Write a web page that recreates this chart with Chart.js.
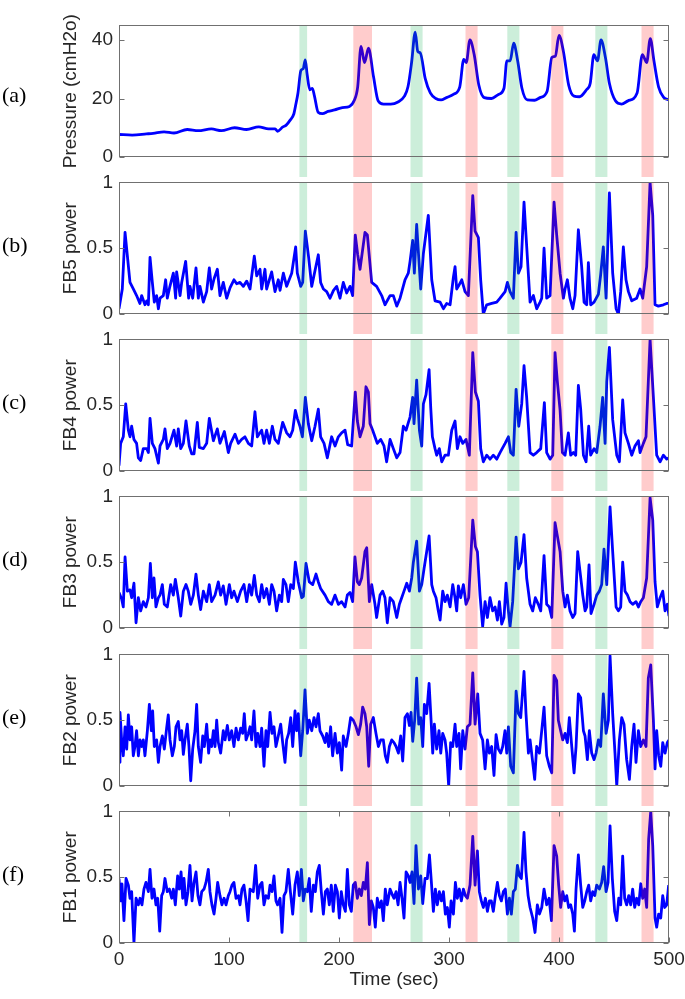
<!DOCTYPE html>
<html>
<head>
<meta charset="utf-8">
<script src="https://cdn.jsdelivr.net/npm/chart.js@4.4.1/dist/chart.umd.min.js"></script>
<style>
  html, body { margin: 0; padding: 0; background: #fff; }
  #fig { position: relative; width: 685px; height: 999px; overflow: hidden; }
  #fig canvas { position: absolute; left: 0; }
  .tag { position: absolute; left: 2px; font-family: 'Liberation Serif', 'Times New Roman', serif; font-size: 22px; line-height: 24px; color: #000; }
</style>
</head>
<body>
<div id="fig"></div>
<script>
const timeTicks = [0, 100, 200, 300, 400, 500]
const pressureTicks = [0, 20, 40]
const powerTicks = [0, 0.5, 1]
const greenBands = [[164, 171], [265, 276], [353, 364], [433, 444]]
const redBands = [[213, 230], [315, 326], [393, 404], [475, 486]]
const panelTags = ['(a)', '(b)', '(c)', '(d)', '(e)', '(f)']
const yTitles = ['Pressure (cmH2o)', 'FB5 power', 'FB4 power', 'FB3 power', 'FB2 power', 'FB1 power']

// [time (sec), value]
const pressure = [[0,7.7],[12,7.5],[25,7.9],[31,8.1],[41,8.6],[50,8.2],[62,9.4],[72,9.0],[84,9.6],[93,9.0],[105,10.0],[116,9.4],[127,10.3],[136,9.6],[142,9.6],[144,8.8],[149,10.3],[152,10.9],[155.6,12.6],[159,14.8],[160.5,17.5],[162.7,21.9],[165.4,29.6],[167.5,30.2],[169.3,33.2],[171,28.3],[173.5,23],[175.8,23.5],[177.7,20.8],[181,15.3],[185,14.8],[190,15.6],[196,16.1],[203,16.9],[209.5,17.3],[213.7,19.2],[217,24],[220,37.8],[223.2,32.3],[226.8,37.2],[231.4,27.4],[235.6,19.2],[240.5,18.1],[247,18.1],[253.6,18.8],[259.5,20.8],[262.7,24],[266,32.3],[269.3,42.7],[271.6,36.1],[273.9,35.6],[278.4,26.8],[283,21.9],[288,20],[292.8,19.5],[297.7,20.3],[304,21.4],[309.8,24],[313.4,33.4],[315.7,32.3],[319,40],[322.9,35],[327.1,24.6],[332,20.3],[338.6,20],[345,21.4],[350,23.5],[352.6,32.9],[355.6,32.9],[358.8,38.9],[362.4,32.9],[366.3,23.5],[371.2,19.5],[377.8,19.4],[382.7,20.3],[389.2,22.5],[393.5,34],[396.7,34.5],[400,41.6],[404,36.1],[408.8,24.6],[413.7,20.8],[418.6,20.6],[425,23],[428.4,25.2],[431.7,35],[435,32.9],[438.2,40],[442.2,34],[445.8,25.2],[451.3,19.2],[456.9,18.1],[462.7,19.2],[471,21.9],[475.8,35],[479.7,32.3],[483,40.5],[486.3,32.9],[490.5,24],[495.4,20.3],[500,19.5]]

const fb5 = [[0,0.04],[3,0.19],[5.5,0.62],[10,0.24],[13,0.19],[16,0.14],[19,0.08],[20.6,0.14],[23.6,0.07],[25.2,0.10],[26.7,0.07],[28.2,0.43],[30.3,0.24],[32.1,0.09],[34.2,0.14],[35.8,0.04],[37.3,0.12],[40.3,0.14],[42.4,0.26],[43.9,0.12],[46,0.2],[49.4,0.31],[51.5,0.12],[52.4,0.32],[55.5,0.14],[57,0.24],[60.6,0.40],[63.3,0.12],[64.5,0.21],[67,0.12],[70,0.35],[72.1,0.12],[73.6,0.21],[76.7,0.09],[79.7,0.17],[82.1,0.35],[84.2,0.19],[86.5,0.27],[89.4,0.34],[91.8,0.14],[94.8,0.24],[97.9,0.12],[101,0.2],[104.5,0.26],[107,0.23],[110,0.24],[113,0.21],[116.1,0.25],[119.1,0.19],[123,0.44],[125.2,0.29],[128.2,0.34],[129.7,0.19],[132.7,0.34],[134.2,0.19],[138.8,0.32],[141.8,0.17],[144.8,0.26],[146.4,0.18],[149.4,0.31],[152.4,0.21],[157,0.31],[160.6,0.51],[162.1,0.31],[165.2,0.21],[167,0.24],[169.4,0.63],[172.4,0.43],[175.2,0.21],[181.2,0.45],[183.3,0.24],[185.8,0.19],[188.8,0.17],[191.8,0.12],[195,0.18],[197.9,0.21],[200.9,0.12],[203.9,0.24],[207,0.16],[210,0.21],[212.4,0.14],[214.8,0.60],[217,0.45],[219.1,0.34],[223.6,0.62],[225.8,0.60],[229.7,0.24],[234.2,0.21],[238.8,0.14],[241.8,0.07],[246.4,0.14],[249.4,0.14],[252.5,0.06],[255.5,0.12],[260,0.26],[263,0.31],[264.6,0.40],[267,0.56],[268.5,0.31],[270.6,0.68],[274.3,0.19],[276.7,0.46],[281.2,0.75],[284.3,0.26],[287.3,0.10],[291.9,0.09],[294.9,0.04],[297.9,0.08],[301,0.07],[304,0.28],[305.5,0.36],[307,0.19],[308.5,0.21],[311.6,0.26],[314.6,0.17],[317.6,0.14],[321.6,0.90],[323.7,0.63],[326.7,0.58],[328.8,0.26],[331.2,0.0],[334.3,0.07],[338.8,0.08],[343.4,0.09],[346.4,0.12],[351,0.17],[353.1,0.24],[355.5,0.17],[358.5,0.12],[361,0.62],[363.1,0.31],[365.5,0.36],[368.2,0.85],[370,0.60],[373.7,0.09],[376.7,0.14],[379.7,0.04],[382.8,0.09],[384.3,0.12],[386.4,0.50],[388.8,0.12],[391.9,0.14],[395.5,0.85],[397.9,0.60],[401,0.31],[404,0.12],[405.5,0.19],[407.6,0.26],[410,0.12],[412.5,0.04],[414.6,0.14],[417.6,0.64],[420.6,0.36],[422.8,0.09],[425.2,0.07],[426.7,0.39],[428.8,0.07],[431.9,0.09],[435.8,0.15],[437.9,0.30],[440.3,0.51],[442.8,0.12],[445.8,0.92],[448.8,0.31],[451.9,0.04],[454,0.0],[456.1,0.17],[458.5,0.51],[460.9,0.26],[463.1,0.17],[466.1,0.10],[470.6,0.12],[473.7,0.19],[476.1,0.12],[479.7,0.36],[482.8,1.0],[485.2,0.75],[487.3,0.07],[490.3,0.06],[494.9,0.07],[497.9,0.08],[500,0.08]]

const fb4 = [[0,0.04],[1.5,0.21],[3.9,0.26],[6.1,0.51],[8.5,0.31],[10,0.26],[11.5,0.34],[13.6,0.24],[16,0.21],[17.6,0.10],[19.7,0.08],[22.1,0.17],[25.2,0.17],[26.7,0.14],[28.2,0.40],[30.3,0.21],[32.7,0.17],[35.8,0.06],[37.3,0.19],[40.3,0.24],[41.8,0.32],[43.9,0.17],[46.4,0.21],[50,0.31],[52.4,0.19],[53.9,0.32],[56.1,0.17],[58.5,0.21],[60.9,0.38],[63.9,0.19],[66.1,0.13],[68.2,0.13],[71.2,0.37],[73,0.18],[76.7,0.17],[79.7,0.21],[82.1,0.40],[85.8,0.23],[89.4,0.32],[91.8,0.21],[95.8,0.30],[99.4,0.14],[101.5,0.21],[105.5,0.28],[108.5,0.21],[111.5,0.24],[114.5,0.26],[117.6,0.21],[120.6,0.19],[123.6,0.45],[125.8,0.26],[129.7,0.31],[131.8,0.21],[134.2,0.31],[136.7,0.21],[139.4,0.34],[141.8,0.24],[144.8,0.21],[148.8,0.37],[152.4,0.29],[155.5,0.26],[157.9,0.31],[160.3,0.46],[162.1,0.40],[164.5,0.34],[166.7,0.26],[169.4,0.56],[172.1,0.36],[175.2,0.23],[178.2,0.34],[181.2,0.47],[183.3,0.26],[186.4,0.21],[189.4,0.10],[193.3,0.26],[196.4,0.19],[199.4,0.26],[202.4,0.29],[205.5,0.31],[207.9,0.20],[211.5,0.19],[214.8,0.60],[216.7,0.38],[219.1,0.26],[222.1,0.34],[224.5,0.64],[226.7,0.60],[228.2,0.36],[230.6,0.31],[232.7,0.26],[234.8,0.21],[237.9,0.24],[240.9,0.19],[243.3,0.07],[246.4,0.24],[249.4,0.17],[252.5,0.10],[255.5,0.14],[258.5,0.34],[261,0.31],[263.1,0.37],[264.6,0.41],[267,0.56],[268.2,0.36],[270.6,0.69],[273.1,0.31],[275.2,0.19],[276.7,0.51],[279.1,0.58],[281.9,0.77],[283.4,0.48],[284.9,0.26],[287.3,0.17],[288.8,0.12],[291.2,0.17],[293.4,0.07],[296.4,0.12],[299.4,0.12],[302.5,0.31],[305.5,0.38],[307.6,0.17],[310,0.26],[312.5,0.21],[315.5,0.24],[318.5,0.12],[321.6,0.90],[324,0.60],[326.7,0.53],[328.8,0.17],[331.2,0.07],[334.3,0.12],[337.3,0.09],[340.3,0.12],[343.4,0.09],[346.4,0.14],[351,0.21],[354,0.26],[356.1,0.14],[358.5,0.12],[361,0.62],[363.4,0.34],[366.1,0.51],[368.2,0.80],[370.6,0.56],[373.7,0.14],[376.7,0.12],[379.7,0.14],[383.4,0.17],[386.7,0.52],[388.8,0.14],[391.9,0.09],[394.3,0.12],[396.4,0.90],[398.5,0.68],[401,0.46],[403.1,0.14],[405.5,0.12],[408.5,0.29],[410.6,0.12],[413.1,0.14],[415.2,0.12],[417.6,0.65],[419.7,0.47],[422.2,0.12],[424.6,0.07],[427,0.34],[428.8,0.12],[431.9,0.17],[434.3,0.14],[437.3,0.34],[439.7,0.56],[441.9,0.21],[443.4,0.68],[445.8,0.94],[448.8,0.39],[452.5,0.12],[454.9,0.07],[457.9,0.54],[460,0.29],[463.1,0.21],[466.1,0.12],[469.1,0.19],[472.2,0.23],[473.7,0.14],[476.7,0.21],[479.1,0.26],[482.8,1.0],[485.8,0.56],[488.8,0.12],[491.9,0.07],[494.9,0.12],[497.9,0.09],[500,0.10]]

const fb3 = [[0,0.27],[2.4,0.22],[3.9,0.16],[5.5,0.54],[7.6,0.28],[10,0.29],[11.5,0.23],[13.6,0.34],[15.5,0.04],[17.6,0.23],[19.7,0.13],[22.1,0.20],[24.5,0.16],[26.7,0.23],[28.5,0.49],[30.3,0.23],[31.8,0.38],[33.6,0.16],[35.8,0.23],[37.3,0.25],[39.4,0.33],[41.2,0.18],[43.9,0.16],[47,0.33],[49.4,0.25],[51.2,0.37],[53.9,0.23],[56.1,0.09],[58.5,0.28],[60.9,0.33],[63,0.28],[65.2,0.18],[67.6,0.25],[70,0.41],[72.1,0.25],[74.2,0.14],[76.7,0.28],[79.7,0.20],[82.1,0.33],[84.2,0.20],[87.3,0.25],[90.3,0.35],[92.4,0.25],[94.8,0.32],[97.3,0.18],[100.3,0.33],[102.4,0.23],[104.5,0.28],[107.6,0.20],[110.6,0.28],[113.6,0.33],[116.1,0.20],[118.5,0.33],[120.6,0.25],[123,0.40],[125.2,0.25],[127.6,0.20],[129.7,0.33],[131.8,0.23],[134.2,0.30],[136.7,0.18],[138.8,0.33],[140.9,0.28],[143.3,0.13],[145.8,0.25],[147.9,0.20],[149.4,0.37],[151.8,0.33],[153.9,0.20],[156.1,0.33],[158.5,0.30],[160.3,0.50],[163,0.35],[166.1,0.23],[167.6,0.24],[170,0.49],[173,0.35],[176.1,0.33],[179.1,0.41],[181.2,0.35],[183.3,0.30],[187.3,0.25],[190.3,0.20],[193.3,0.18],[196.4,0.25],[199.4,0.18],[202.4,0.20],[205.5,0.16],[207.6,0.25],[210,0.27],[212.4,0.20],[214.5,0.54],[216.7,0.35],[218.5,0.33],[220.6,0.38],[223.6,0.58],[225.2,0.61],[227.6,0.20],[229.7,0.33],[232.7,0.18],[234.2,0.08],[237.3,0.25],[239.7,0.28],[241.8,0.23],[243.9,0.04],[246.4,0.23],[249.4,0.20],[252.5,0.08],[254.9,0.18],[257,0.23],[259.1,0.28],[261.6,0.34],[264,0.28],[266.1,0.38],[267.6,0.50],[270.6,0.66],[273.1,0.28],[275.2,0.33],[277.3,0.45],[279.7,0.58],[281.9,0.70],[284.3,0.33],[285.8,0.28],[288.2,0.23],[290.3,0.13],[291.9,0.06],[294.3,0.28],[296.4,0.20],[298.5,0.25],[301,0.16],[303.4,0.33],[305.5,0.23],[307,0.13],[308.5,0.32],[310.6,0.23],[313.1,0.33],[315.5,0.18],[317.9,0.23],[321.6,0.82],[324,0.62],[325.8,0.58],[328.2,0.25],[330.6,0.01],[332.8,0.20],[334.9,0.08],[337.3,0.23],[339.7,0.13],[341.9,0.16],[344,0.06],[345.8,0.20],[347.9,0.03],[350,0.08],[351.9,0.34],[354,0.13],[355.5,0.01],[357.9,0.20],[361,0.69],[363.1,0.45],[365.5,0.50],[368.2,0.71],[370.6,0.38],[373.7,0.18],[376.1,0.13],[378.5,0.23],[381.2,0.18],[383.4,0.13],[386.4,0.55],[388.8,0.18],[391.2,0.16],[393.4,0.08],[396.4,0.80],[398.5,0.70],[401,0.58],[403.4,0.28],[405.5,0.16],[407.6,0.25],[410,0.13],[412.5,0.08],[414.6,0.11],[417,0.58],[419.1,0.43],[421.6,0.25],[423.7,0.13],[425.2,0.16],[427.3,0.48],[429.1,0.11],[431.9,0.18],[434.3,0.25],[436.7,0.28],[438.8,0.33],[440.9,0.60],[443.4,0.33],[446.4,0.92],[448.8,0.58],[451.9,0.16],[454,0.13],[456.1,0.16],[457.9,0.50],[460,0.28],[462.2,0.25],[464.6,0.20],[467,0.18],[470,0.20],[472.2,0.16],[474.3,0.20],[476.7,0.23],[479.7,0.38],[482.8,0.99],[485.2,0.82],[487.3,0.35],[489.4,0.16],[491.9,0.23],[494.3,0.28],[496.4,0.13],[498.5,0.18],[500,0.09]]

const fb2 = [[0,0.18],[0.9,0.56],[2.4,0.35],[3.9,0.23],[5.5,0.45],[7,0.28],[8.5,0.54],[10,0.35],[11.5,0.45],[13,0.23],[14.5,0.30],[16,0.42],[17.6,0.23],[19.1,0.35],[20.6,0.30],[22.1,0.35],[23.6,0.23],[25.8,0.42],[27.6,0.62],[29.4,0.42],[30.6,0.57],[32.1,0.30],[34.2,0.35],[35.8,0.18],[37.3,0.30],[39.4,0.38],[41.2,0.28],[43.3,0.44],[44.8,0.54],[46.4,0.35],[48.5,0.23],[50.3,0.30],[51.8,0.45],[53.9,0.49],[55.5,0.35],[57,0.42],[58.5,0.24],[60,0.35],[62.1,0.47],[63.6,0.30],[65.2,0.04],[67,0.28],[69.1,0.42],[70.6,0.62],[72.1,0.30],[74.2,0.18],[76.1,0.38],[77.6,0.30],[79.7,0.47],[81.5,0.25],[82.7,0.35],[84.2,0.30],[85.8,0.42],[87.3,0.30],[88.8,0.50],[90.3,0.33],[92.4,0.25],[94.8,0.42],[96.4,0.35],[98.5,0.46],[100.3,0.35],[102.4,0.42],[104.5,0.30],[106.4,0.44],[108.5,0.35],[110.6,0.44],[112.4,0.40],[113.9,0.55],[115.5,0.35],[117.6,0.40],[119.1,0.45],[120.6,0.35],[122.7,0.57],[124.5,0.30],[126.1,0.40],[128.2,0.30],[129.7,0.44],[131.8,0.15],[133.6,0.42],[135.2,0.30],[137.3,0.56],[139.1,0.40],[140.9,0.45],[142.7,0.30],[144.8,0.38],[147,0.47],[148.8,0.33],[150.9,0.18],[152.4,0.35],[154.2,0.40],[156.1,0.52],[157.9,0.30],[160,0.57],[161.5,0.42],[163,0.55],[165.2,0.23],[167,0.42],[169.1,0.73],[171.2,0.40],[173,0.50],[175.2,0.42],[177.3,0.52],[179.1,0.45],[181.2,0.55],[182.7,0.42],[185.2,0.38],[187.3,0.33],[188.8,0.40],[190.6,0.30],[192.4,0.45],[194.2,0.23],[196.4,0.40],[198.5,0.25],[200.3,0.33],[202.4,0.12],[203.9,0.38],[206.4,0.30],[208.5,0.40],[210.6,0.52],[213,0.50],[215.5,0.45],[217.6,0.39],[219.7,0.47],[221.5,0.60],[223.6,0.55],[225.2,0.45],[227,0.15],[228.8,0.47],[231.2,0.52],[233.6,0.40],[235.8,0.30],[237.9,0.35],[240.3,0.35],[242.1,0.23],[243.9,0.18],[245.8,0.30],[247.9,0.35],[250,0.33],[251.9,0.30],[254,0.25],[256.1,0.38],[257.9,0.19],[260,0.52],[262.2,0.55],[264,0.46],[265.5,0.56],[267,0.34],[268.8,0.50],[270.6,0.82],[272.5,0.47],[274.3,0.52],[276.1,0.30],[277.6,0.62],[279.7,0.55],[281.9,0.78],[283.7,0.50],[285.2,0.25],[286.7,0.47],[288.8,0.28],[290.9,0.42],[292.5,0.25],[294.3,0.40],[296.4,0.35],[297.9,0.25],[299.7,0.0],[301.5,0.33],[303.4,0.30],[305.5,0.47],[307,0.30],[309.1,0.40],[310.6,0.13],[312.5,0.42],[314.6,0.28],[316.7,0.45],[319.1,0.47],[321.6,0.86],[323.7,0.47],[326.1,0.70],[328.2,0.40],[330.6,0.35],[332.8,0.13],[334.9,0.35],[336.7,0.25],[338.8,0.30],[340.9,0.08],[342.8,0.39],[344.9,0.28],[347,0.25],[348.8,0.30],[350.9,0.42],[352.5,0.25],[354,0.45],[356.1,0.15],[358.5,0.10],[361,0.72],[363.1,0.55],[365.2,0.52],[368.2,0.87],[370,0.55],[372.2,0.25],[373.7,0.35],[376.1,0.18],[377.9,0.05],[379.7,0.30],[382.2,0.25],[384.3,0.42],[386.4,0.60],[388.8,0.23],[391.2,0.15],[393.4,0.10],[395.5,0.84],[397.9,0.80],[399.4,0.50],[401.5,0.42],[403.4,0.35],[405.5,0.40],[407.6,0.33],[409.4,0.52],[411.6,0.30],[413.7,0.10],[415.5,0.30],[417.6,0.70],[419.7,0.67],[422.2,0.42],[423.7,0.38],[425.8,0.20],[427.6,0.42],[429.7,0.25],[431.9,0.20],[433.7,0.25],[435.8,0.35],[437.9,0.30],[440.3,0.70],[442.8,0.40],[444.9,0.50],[446.4,0.99],[448.8,0.55],[450.9,0.25],[452.5,0.0],[454.9,0.35],[457,0.52],[459.1,0.47],[461.5,0.20],[464,0.05],[466.1,0.30],[468.2,0.47],[470,0.18],[472.2,0.42],[474.3,0.30],[476.7,0.35],[479.1,0.30],[481.2,0.82],[483.4,0.92],[485.8,0.50],[487.3,0.13],[488.8,0.42],[490.6,0.23],[492.5,0.15],[494.3,0.33],[496.4,0.25],[498.5,0.33],[500,0.35]]

const fb1 = [[0,0.49],[1.5,0.32],[2.7,0.45],[4.5,0.17],[6.4,0.49],[8.5,0.44],[10,0.34],[11.5,0.39],[13.6,0.0],[15.5,0.34],[17.6,0.29],[19.1,0.34],[20.9,0.29],[22.7,0.41],[24.5,0.46],[26.7,0.39],[28.2,0.56],[30,0.34],[31.8,0.41],[33.6,0.29],[35.2,0.34],[37,0.09],[38.8,0.36],[40.3,0.39],[41.8,0.49],[43.9,0.39],[45.8,0.41],[47.9,0.34],[49.4,0.41],[51.2,0.29],[53.3,0.51],[54.8,0.41],[56.4,0.54],[57.9,0.34],[59.1,0.49],[60.9,0.29],[62.7,0.39],[64.5,0.59],[66.4,0.32],[68.2,0.46],[70,0.54],[71.8,0.36],[73.6,0.29],[75.2,0.39],[77.3,0.41],[79.1,0.46],[81.2,0.56],[82.7,0.39],[84.5,0.29],[86.4,0.22],[88.2,0.34],[89.7,0.46],[91.8,0.36],[93.6,0.29],[95.5,0.34],[97.3,0.29],[99.4,0.36],[100.9,0.39],[102.7,0.44],[104.5,0.46],[106.4,0.34],[108.5,0.36],[110,0.29],[111.8,0.41],[113.6,0.44],[115.5,0.32],[117.3,0.17],[119.1,0.41],[122.1,0.39],[124.2,0.59],[126.1,0.34],[128.2,0.44],[130,0.46],[131.8,0.29],[133.6,0.36],[135.8,0.34],[137.3,0.44],[139.1,0.39],[140.9,0.51],[142.7,0.32],[144.2,0.29],[146.4,0.34],[148.2,0.08],[150,0.36],[151.8,0.39],[153.9,0.56],[155.8,0.39],[157.9,0.22],[160,0.44],[162.1,0.54],[163.9,0.36],[165.8,0.56],[167.6,0.32],[169.4,0.41],[171.2,0.39],[173,0.49],[174.8,0.24],[176.7,0.44],[178.5,0.39],[180.3,0.54],[182.1,0.59],[183.9,0.39],[185.8,0.22],[187.6,0.39],[189.4,0.41],[191.2,0.29],[193,0.44],[194.8,0.24],[196.7,0.44],[198.5,0.39],[200.3,0.19],[202.1,0.39],[203.9,0.29],[205.8,0.24],[207.6,0.56],[209.4,0.29],[211.2,0.24],[213,0.44],[214.8,0.46],[216.7,0.34],[218.5,0.41],[220.3,0.36],[222.1,0.46],[223.9,0.41],[225.8,0.61],[227.6,0.14],[229.4,0.32],[231.2,0.27],[233,0.12],[234.8,0.34],[236.7,0.27],[238.5,0.32],[240.3,0.17],[242.1,0.41],[243.9,0.29],[246.4,0.41],[248.8,0.36],[250,0.34],[251.9,0.39],[253.7,0.29],[255.5,0.46],[257.3,0.34],[259.1,0.19],[261,0.54],[263.1,0.51],[264.6,0.46],[266.4,0.54],[268.2,0.30],[270,0.74],[272.2,0.41],[274.3,0.51],[276.1,0.30],[278.2,0.49],[280.3,0.49],[282.2,0.67],[284,0.46],[285.8,0.24],[287.6,0.41],[289.4,0.29],[291.2,0.39],[293.1,0.32],[294.9,0.39],[296.7,0.22],[298.5,0.27],[300.3,0.12],[301.9,0.32],[304,0.22],[305.8,0.46],[307.6,0.34],[309.4,0.41],[311.2,0.32],[313.1,0.41],[314.9,0.36],[316.7,0.34],[319.1,0.44],[321.6,0.81],[323.7,0.44],[325.8,0.70],[327.6,0.39],[329.4,0.32],[331.2,0.27],[333.1,0.34],[334.9,0.24],[336.7,0.32],[338.5,0.32],[340.3,0.24],[342.2,0.36],[344,0.46],[345.8,0.36],[347.6,0.32],[349.4,0.39],[351.2,0.41],[353.1,0.22],[354.9,0.34],[356.7,0.22],[358.5,0.39],[360.3,0.41],[362.2,0.59],[364,0.51],[365.8,0.49],[368.2,0.84],[370,0.54],[371.9,0.36],[373.7,0.27],[376.1,0.19],[378.2,0.08],[380.3,0.29],[382.2,0.22],[384.3,0.27],[386.4,0.41],[388.8,0.29],[391,0.34],[393.1,0.17],[395.5,0.74],[397.9,0.66],[399.7,0.44],[401.5,0.27],[403.4,0.39],[405.2,0.32],[407,0.36],[408.8,0.27],[410.6,0.29],[412.5,0.22],[414,0.09],[415.5,0.41],[417.6,0.67],[419.7,0.44],[421.6,0.27],[423.4,0.32],[425.2,0.39],[427,0.44],[428.8,0.32],[430.6,0.39],[432.5,0.36],[434.3,0.44],[436.7,0.41],[438.8,0.46],[440.6,0.58],[442.8,0.39],[444.6,0.46],[446.4,0.89],[448.5,0.49],[450.6,0.24],[452.5,0.17],[454.3,0.34],[456.1,0.29],[457.9,0.66],[459.7,0.34],[461.5,0.29],[463.4,0.36],[465.2,0.29],[467,0.41],[468.8,0.27],[470.6,0.34],[472.5,0.29],[474.3,0.45],[476.1,0.34],[477.9,0.41],[479.7,0.27],[481.5,0.79],[483.4,1.0],[485.2,0.74],[487.3,0.19],[488.8,0.12],[490.6,0.22],[492.5,0.19],[494.3,0.36],[496.1,0.27],[497.9,0.29],[499.7,0.44]]

// page layout
const W = 685
const FIG_H = 999
const PLOT_LEFT = 119
const PLOT_RIGHT = 669
const panelTop = [20, 177, 334, 491, 649, 806]
const panelH = 137
const tagCenter = [95, 245, 402, 559, 717, 874]
const INK = '#262626'

Chart.defaults.font.family = "'Liberation Sans', Arial, sans-serif"

const fig = document.getElementById('fig')

function panelDeco(bandBelow, yTicks, showX) {
    return {
        id: 'panelDeco',
        afterDatasetsDraw(chart) {
            const {ctx, chartArea, scales} = chart
            const x = scales.x
            const bottom = chartArea.bottom + bandBelow
            ctx.save()
            const sets = [[greenBands, 'rgba(0,170,70,0.2)'], [redBands, 'rgba(255,0,0,0.2)']]
            for (const [bands, color] of sets) {
                ctx.fillStyle = color
                for (const b of bands) {
                    const x1 = x.getPixelForValue(b[0])
                    const x2 = x.getPixelForValue(b[1])
                    ctx.fillRect(x1, chartArea.top, x2 - x1, bottom - chartArea.top)
                }
            }
            ctx.restore()
        },
        afterDraw(chart) {
            const {ctx, chartArea, scales} = chart
            const l = Math.round(chartArea.left) + 0.5
            const r = Math.round(chartArea.right) - 0.5
            const t = Math.round(chartArea.top) + 0.5
            const b = Math.round(chartArea.bottom) - 0.5
            ctx.save()
            ctx.strokeStyle = '#707070'
            ctx.lineWidth = 1
            ctx.strokeRect(l, t, r - l, b - t)
            ctx.beginPath()
            for (const v of yTicks) {
                const py = Math.round(scales.y.getPixelForValue(v)) + 0.5
                ctx.moveTo(l, py); ctx.lineTo(l + 5, py)
                ctx.moveTo(r, py); ctx.lineTo(r - 5, py)
            }
            if (showX) {
                for (const v of timeTicks) {
                    const px = Math.round(scales.x.getPixelForValue(v)) + 0.5
                    ctx.moveTo(px, b); ctx.lineTo(px, b - 5)
                    ctx.moveTo(px, t); ctx.lineTo(px, t + 5)
                }
            }
            ctx.stroke()
            ctx.restore()
        }
    }
}

function makePanel(i, series, yMax, yTicks) {
    const isLast = i === panelTop.length - 1
    const top = panelTop[i] - 12
    const h = isLast ? FIG_H - top : panelTop[i + 1] + 12 - top
    const gap = isLast ? 0 : panelTop[i + 1] - panelTop[i] - panelH

    const canvas = document.createElement('canvas')
    canvas.width = W
    canvas.height = h
    canvas.style.top = top + 'px'
    fig.appendChild(canvas)

    const tag = document.createElement('div')
    tag.className = 'tag'
    tag.textContent = panelTags[i]
    tag.style.top = (tagCenter[i] - 12) + 'px'
    fig.appendChild(tag)

    new Chart(canvas, {
        type: 'line',
        data: {
            datasets: [{
                data: series.map(p => ({x: p[0], y: p[1]})),
                borderColor: '#0000ff',
                borderWidth: 2.8,
                borderJoinStyle: 'round',
                pointRadius: 0,
                tension: 0,
                cubicInterpolationMode: i === 0 ? 'monotone' : 'default'
            }]
        },
        options: {
            responsive: false,
            animation: false,
            events: [],
            layout: {
                padding: {left: 0, right: W - PLOT_RIGHT, top: 12, bottom: isLast ? 0 : h - 12 - panelH}
            },
            plugins: {
                legend: {display: false},
                tooltip: {enabled: false}
            },
            scales: {
                x: {
                    type: 'linear',
                    min: 0,
                    max: 500,
                    display: isLast,
                    afterBuildTicks: s => { s.ticks = timeTicks.map(v => ({value: v})) },
                    afterFit: s => {
                        if (isLast) s.height = FIG_H - (panelTop[i] + panelH)
                        s.paddingLeft = 0
                        s.paddingRight = 0
                    },
                    grid: {display: false, drawTicks: false},
                    border: {display: false},
                    ticks: {autoSkip: false, maxRotation: 0, color: INK, font: {size: 19}, padding: 5, callback: v => String(v)},
                    title: {display: true, text: 'Time (sec)', color: INK, font: {size: 19}, padding: {top: 0, bottom: 8}}
                },
                y: {
                    min: 0,
                    max: yMax,
                    afterBuildTicks: s => { s.ticks = yTicks.map(v => ({value: v})) },
                    afterFit: s => { s.width = PLOT_LEFT },
                    grid: {display: false, drawTicks: false},
                    border: {display: false},
                    ticks: {color: INK, font: {size: 19}, padding: 6, callback: v => String(v)},
                    title: {display: true, text: yTitles[i], color: INK, font: {size: 19}, padding: {top: 59, bottom: 0}}
                }
            }
        },
        plugins: [panelDeco(gap, yTicks, isLast)]
    })
}

makePanel(0, pressure, 45, pressureTicks)
makePanel(1, fb5, 1, powerTicks)
makePanel(2, fb4, 1, powerTicks)
makePanel(3, fb3, 1, powerTicks)
makePanel(4, fb2, 1, powerTicks)
makePanel(5, fb1, 1, powerTicks)
</script>
</body>
</html>
